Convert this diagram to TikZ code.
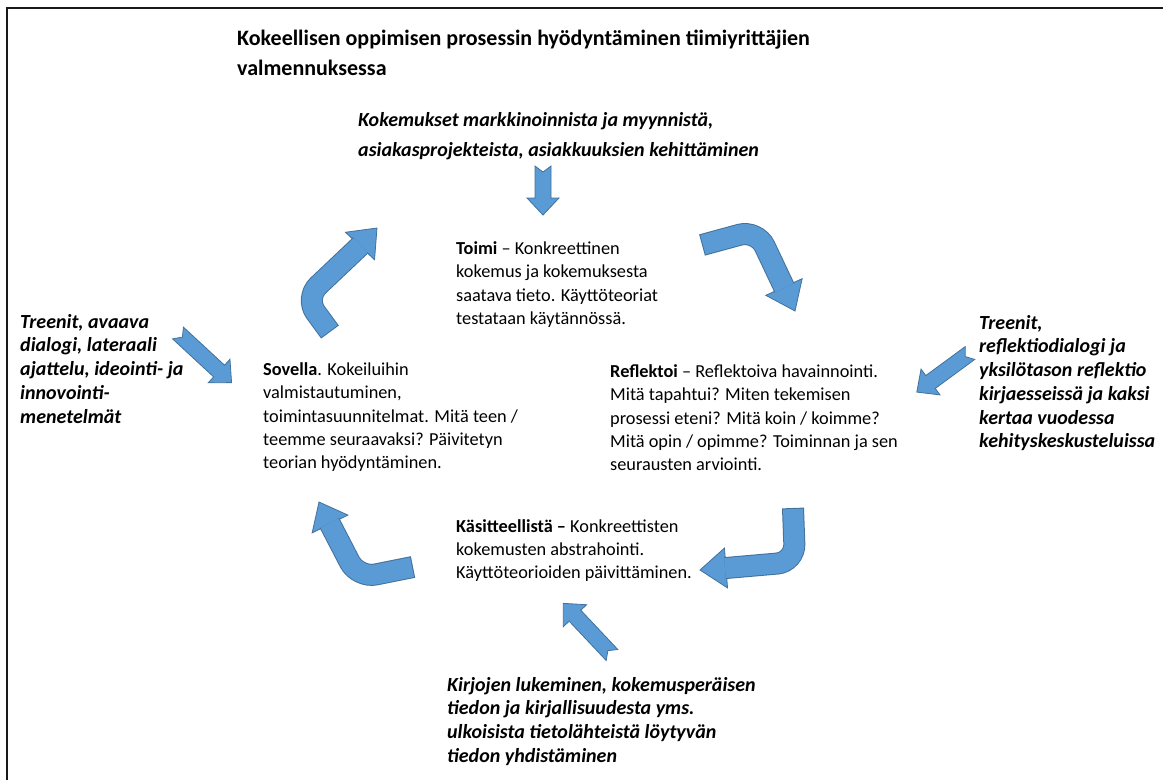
\documentclass[tikz,border=0pt]{standalone}
\usepackage{fontspec}
\setmainfont{Carlito}
\usetikzlibrary{calc}
\definecolor{arrowfill}{RGB}{91,155,213}
\definecolor{arrowedge}{RGB}{65,113,156}
\tikzset{
  heading/.style={font=\fontsize{22}{30}\selectfont\bfseries, align=left, anchor=north west, inner sep=0pt},
  source/.style={font=\fontsize{20}{23.7}\selectfont\bfseries\itshape, align=left, anchor=north west, inner sep=0pt},
  phase/.style={font=\fontsize{18.3}{23.3}\selectfont, align=left, anchor=north west, inner sep=0pt},
  bendout/.style={draw=arrowedge, line width=22pt, rounded corners=18pt},
  bendin/.style={draw=arrowfill, line width=20pt, rounded corners=18pt, shorten <=1pt},
  tiphead/.style={fill=arrowfill, draw=arrowedge, line width=0.8pt, line join=miter},
  pics/notch/.style={code={
    \filldraw[tiphead] (0,8) -- (#1-17,8) -- (#1-17,16) -- (#1,0) -- (#1-17,-16) -- (#1-17,-8) -- (0,-8) -- (6,0) -- cycle;
  }}
}
\begin{document}
\begin{tikzpicture}[x=1pt,y=-1pt]
  \useasboundingbox (0,0) rectangle (1163,780);
  \draw [line width=2pt, black!90] (7,780) -- (7,8) -- (1163,8);

  \node [heading] (title) at (237,29.5) {Kokeellisen oppimisen prosessin hyödyntäminen tiimiyrittäjien\\valmennuksessa};
  \node [source] (srctop) at (358,112) {Kokemukset markkinoinnista ja myynnistä,\\[6.3pt]asiakasprojekteista, asiakkuuksien kehittäminen};

  \node [phase] (toimi) at (456,241.5) {\textbf{Toimi} – Konkreettinen\\kokemus ja kokemuksesta\\saatava tieto. Käyttöteoriat\\testataan käytännössä.};
  \node [phase] (reflektoi) at (610,364.5) {\textbf{Reflektoi} – Reflektoiva havainnointi.\\Mitä tapahtui? Miten tekemisen\\prosessi eteni? Mitä koin / koimme?\\Mitä opin / opimme? Toiminnan ja sen\\seurausten arviointi.};
  \node [phase] (sovella) at (263,362.5) {\textbf{Sovella}. Kokeiluihin\\valmistautuminen,\\toimintasuunnitelmat. Mitä teen /\\teemme seuraavaksi? Päivitetyn\\teorian hyödyntäminen.};
  \node [phase] (kasit) at (456,519) {\textbf{Käsitteellistä –} Konkreettisten\\kokemusten abstrahointi.\\Käyttöteorioiden päivittäminen.};

  \node [source] (srcleft) at (20,314) {Treenit, avaava\\dialogi, lateraali\\ajattelu, ideointi- ja\\innovointi-\\menetelmät};
  \node [source] (srcright) at (979,315) {Treenit,\\reflektiodialogi ja\\yksilötason reflektio\\kirjaesseissä ja kaksi\\kertaa vuodessa\\kehityskeskusteluissa};
  \node [source] (srcbottom) at (447,677) {Kirjojen lukeminen, kokemusperäisen\\tiedon ja kirjallisuudesta yms.\\ulkoisista tietolähteistä löytyvän\\tiedon yhdistäminen};

  % straight arrows from the sources
  \pic [rotate=-90] at (543,166) {notch=49};
  \pic [rotate=-42.8] at (178,333) {notch=73};
  \pic [rotate=-143.7] at (970,353) {notch=66};
  \pic [rotate=133.3] at (612,655) {notch=71};

  % bent arrows of the cycle
  \coordinate (a1) at (330,332); \coordinate (a2) at (305,298);
  \coordinate (a3) at (360,246); \coordinate (a4) at (377,228);
  \filldraw [tiphead] ($(a3)!20pt!90:(a4)$) -- (a4) -- ($(a3)!20pt!-90:(a4)$) -- cycle;
  \draw [bendout] (a1) -- (a2) -- ($(a3)!1pt!(a4)$);
  \draw [bendin] (a1) -- (a2) -- ($(a3)!1pt!(a4)$);

  \coordinate (b1) at (702,245); \coordinate (b2) at (757,230);
  \coordinate (b3) at (784,287); \coordinate (b4) at (795,311);
  \filldraw [tiphead] ($(b3)!20pt!90:(b4)$) -- (b4) -- ($(b3)!20pt!-90:(b4)$) -- cycle;
  \draw [bendout] (b1) -- (b2) -- ($(b3)!1pt!(b4)$);
  \draw [bendin] (b1) -- (b2) -- ($(b3)!1pt!(b4)$);

  \coordinate (c1) at (793,508); \coordinate (c2) at (795,562);
  \coordinate (c3) at (726,568); \coordinate (c4) at (700,570);
  \filldraw [tiphead] ($(c3)!20pt!90:(c4)$) -- (c4) -- ($(c3)!20pt!-90:(c4)$) -- cycle;
  \draw [bendout] (c1) -- (c2) -- ($(c3)!1pt!(c4)$);
  \draw [bendin] (c1) -- (c2) -- ($(c3)!1pt!(c4)$);

  \coordinate (d1) at (413,567); \coordinate (d2) at (358,578);
  \coordinate (d3) at (330,524); \coordinate (d4) at (319,502);
  \filldraw [tiphead] ($(d3)!20pt!90:(d4)$) -- (d4) -- ($(d3)!20pt!-90:(d4)$) -- cycle;
  \draw [bendout] (d1) -- (d2) -- ($(d3)!1pt!(d4)$);
  \draw [bendin] (d1) -- (d2) -- ($(d3)!1pt!(d4)$);
\end{tikzpicture}
\end{document}
